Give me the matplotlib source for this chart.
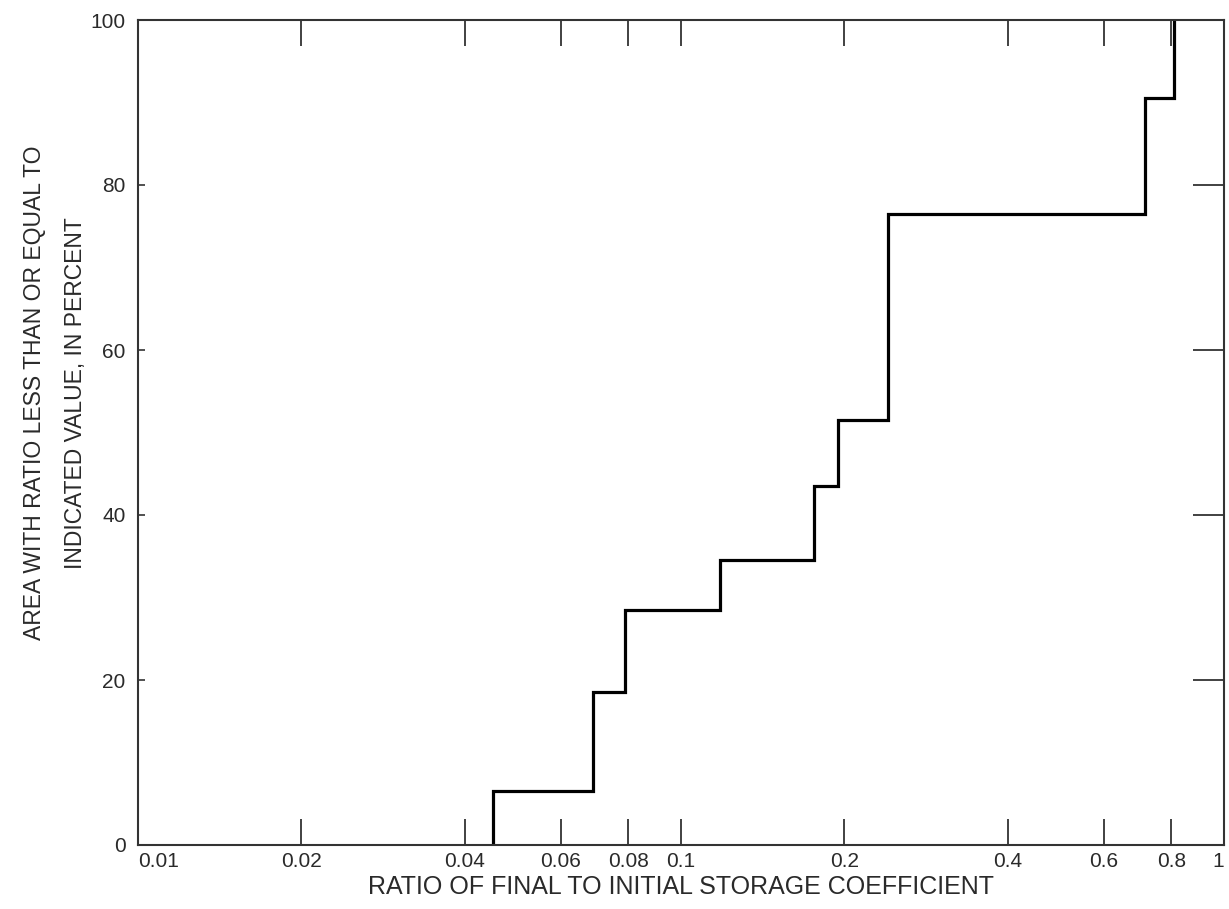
import numpy as np
import matplotlib
matplotlib.use("Agg")
import matplotlib.pyplot as plt
from matplotlib.ticker import FixedLocator, NullFormatter

plt.rcParams['font.family'] = ['Liberation Sans', 'DejaVu Sans']

# step edges (ratio) and the percent level between one edge and the next
ratio_edges = [0.045, 0.069, 0.079, 0.118, 0.176, 0.195, 0.241, 0.716, 0.81]
pct_levels = [6.5, 18.5, 28.5, 34.5, 43.5, 51.5, 76.5, 90.5]

x_tick_vals = [0.01, 0.02, 0.04, 0.06, 0.08, 0.1, 0.2, 0.4, 0.6, 0.8, 1]
x_tick_text = ['0.01', '0.02', '0.04', '0.06', '0.08', '0.1', '0.2', '0.4', '0.6', '0.8', '1']
x_marks = [0.02, 0.04, 0.06, 0.08, 0.1, 0.2, 0.4, 0.6, 0.8]
y_tick_vals = [0, 20, 40, 60, 80, 100]
y_marks = [20, 40, 60, 80]

txt = '#2a2a2a'
frame = '#333333'

fig = plt.figure(figsize=(12.29, 9.09), dpi=100)
ax = fig.add_axes([138 / 1229, 1 - 845 / 909, (1224 - 138) / 1229, (845 - 20) / 909])

# build the staircase path from the edges/levels
xs = np.repeat(ratio_edges, 2)
ys = np.concatenate([[0], np.repeat(pct_levels, 2), [100]])
ax.plot(xs, ys, color='black', lw=2.3, solid_joinstyle='miter')

ax.set_xscale('log')
ax.set_xlim(0.01, 1)
ax.set_ylim(0, 100)

for s in ax.spines.values():
    s.set_color(frame)
    s.set_linewidth(1.5)

# minor ticks sit on label positions, keep them
ax.xaxis.remove_overlapping_locs = False
ax.yaxis.remove_overlapping_locs = False

# labels: major ticks with no marks
ax.xaxis.set_major_locator(FixedLocator(x_tick_vals))
ax.set_xticklabels(x_tick_text)
ax.xaxis.set_minor_locator(FixedLocator(x_marks))
ax.xaxis.set_minor_formatter(NullFormatter())
ax.tick_params(axis='x', which='major', length=0, pad=5, labelsize=15, labelcolor=txt)
ax.tick_params(axis='x', which='minor', direction='in', length=19, width=1.3,
               color=frame, top=True, bottom=True)
labs = ax.get_xticklabels()
labs[0].set_ha('left')
labs[-1].set_ha('right')

ax.set_yticks(y_tick_vals)
ax.yaxis.set_minor_locator(FixedLocator(y_marks))
ax.yaxis.set_minor_formatter(NullFormatter())
ax.tick_params(axis='y', which='major', length=0, pad=9, labelsize=15, labelcolor=txt)
ax.tick_params(axis='y', which='minor', direction='in', length=5, width=1.2,
               color=frame, left=True, right=False)

sec = ax.secondary_yaxis('right')
sec.set_yticks(y_marks)
sec.set_yticklabels([])
sec.tick_params(direction='in', length=22, width=1.3, color=frame)
sec.spines['right'].set_visible(False)

ax.set_xlabel('RATIO OF FINAL TO INITIAL STORAGE COEFFICIENT', fontsize=18,
              color=txt, labelpad=3)
fig.text(55 / 1229, 1 - 393 / 909,
         'AREA WITH RATIO LESS THAN OR EQUAL TO\nINDICATED VALUE, IN PERCENT',
         rotation=90, ha='center', va='center', fontsize=16.5, color=txt,
         linespacing=1.95)

fig.savefig('out.png', dpi=100)
